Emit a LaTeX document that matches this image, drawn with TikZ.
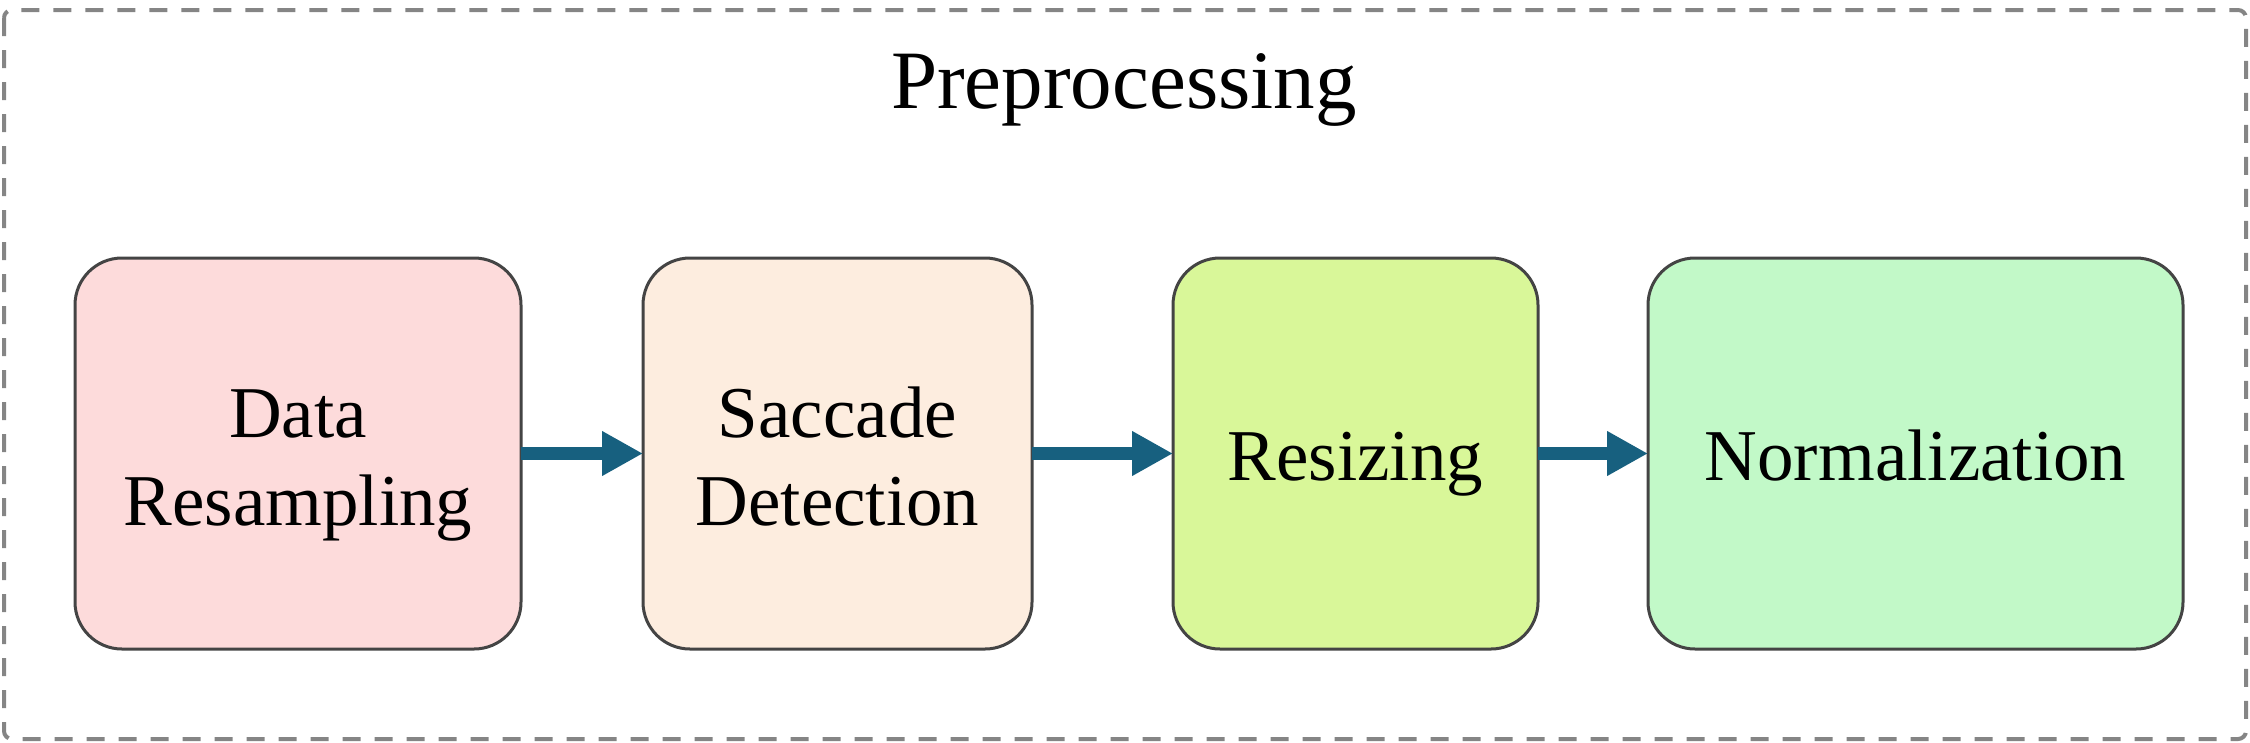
\documentclass[tikz,border=0pt]{standalone}
\usepackage{fontspec}
\setmainfont{Liberation Serif}
\usetikzlibrary{arrows.meta}
\definecolor{fillA}{HTML}{FDDBDB}
\definecolor{fillB}{HTML}{FDEDDF}
\definecolor{fillC}{HTML}{D9F799}
\definecolor{fillD}{HTML}{C2F9C8}
\definecolor{boxline}{HTML}{444444}
\definecolor{frameline}{HTML}{858585}
\definecolor{arrowblue}{HTML}{17607F}
\tikzset{
  stagebox/.style={draw=boxline, line width=3pt, rounded corners=47pt,
    inner sep=0pt, outer sep=0pt, minimum height=391pt, align=center,
    font=\fontsize{73}{88}\selectfont},
  oneline/.style={text height=69pt, text depth=16pt},
  twoline/.style={text height=159pt, text depth=16pt},
  flow/.style={line width=12.7pt, draw=arrowblue, -{Triangle[length=41pt,width=42pt]}},
  outerframe/.style={draw=frameline, line width=4pt, dash pattern=on 18pt off 14pt, rounded corners=8pt},
  titletext/.style={font=\fontsize{83}{99}\selectfont, inner sep=0pt, anchor=base}
}
\begin{document}
\begin{tikzpicture}[x=1pt,y=-1pt]
\useasboundingbox (0,0) rectangle (2250,742);
\draw[outerframe] (4,10) rectangle (2246,739);
\node[titletext] (title) at (1124,108) {Preprocessing};
\node[stagebox, twoline, fill=fillA, minimum width=446pt] (b1) at (298,453.5) {Data\\Resampling};
\node[stagebox, twoline, fill=fillB, minimum width=389pt] (b2) at (837.5,453.5) {Saccade\\Detection};
\node[stagebox, oneline, fill=fillC, minimum width=365pt] (b3) at (1355.5,453.5) {Resizing};
\node[stagebox, oneline, fill=fillD, minimum width=535pt] (b4) at (1915.5,453.5) {Normalization};
\draw[flow] (b1.east) -- (b2.west);
\draw[flow] (b2.east) -- (b3.west);
\draw[flow] (b3.east) -- (b4.west);
\end{tikzpicture}
\end{document}
